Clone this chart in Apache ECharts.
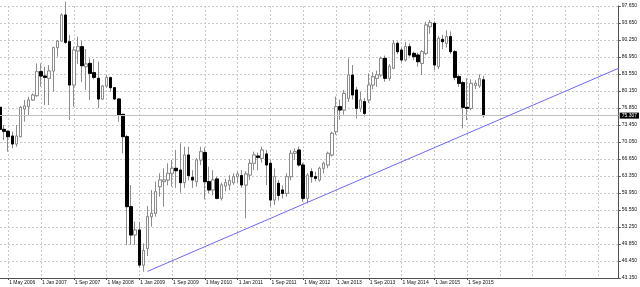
<!DOCTYPE html>
<html><head><meta charset="utf-8">
<script src="https://cdn.jsdelivr.net/npm/echarts@6/dist/echarts.min.js"></script>
<style>html,body{margin:0;padding:0;background:#fff}#c{width:640px;height:287px}</style>
</head><body><div id="c"></div>
<script>
// ---- data ----
const firstMonth = { year: 2006, month: 2 }; // March 2006 (0-based month)
const slotCount = 152;                        // monthly slots on the time axis
const monthNames = ['Jan','Feb','Mar','Apr','May','Jun','Jul','Aug','Sep','Oct','Nov','Dec'];

const opens = [76.95,72.59,72.2,71.27,69.69,71.14,76.62,77.08,78.4,79.26,84.01,83.15,82.69,84.15,88.77,90.08,95.23,89.95,81.37,88.1,
88.96,85.0,85.66,83.81,82.69,78.6,81.17,82.82,80.84,78.6,75.56,71.14,57.28,51.67,52.66,45.7,49.0,55.3,55.96,61.24,
62.23,62.56,63.88,64.87,64.54,62.03,67.51,63.09,62.23,66.52,68.0,62.23,60.58,62.76,58.93,61.37,61.57,62.03,63.22,63.42,
61.57,63.55,65.86,67.31,66.85,67.71,65.86,58.6,61.9,60.58,59.92,63.22,67.84,68.5,65.53,58.93,64.2,63.22,62.56,64.87,
65.53,67.51,72.13,77.08,76.42,78.73,83.35,80.38,76.75,78.07,78.4,81.37,82.7,83.35,86.65,82.69,84.7,89.62,88.3,86.32,
88.96,87.64,87.31,85.66,87.64,92.92,93.58,85.0,90.41,89.62,90.94,87.97,83.02,81.83,76.95,76.75,81.3,81.2,82.4];
const closes = [72.59,72.2,71.14,69.69,71.27,76.95,77.21,78.4,79.39,84.01,83.15,82.89,84.15,88.77,90.08,95.23,89.82,81.37,88.3,88.96,
85.2,85.53,83.68,82.89,78.6,81.17,82.89,80.84,78.6,75.43,71.14,57.28,51.67,52.66,45.7,48.6,55.3,55.96,60.25,62.56,
62.56,63.88,64.87,64.4,62.03,67.51,63.42,62.56,66.52,68.17,62.23,60.58,62.56,58.93,61.57,62.03,62.43,63.22,63.75,61.57,
63.75,65.86,67.51,67.05,68.5,65.53,58.6,63.22,59.5,59.92,63.22,67.84,68.17,65.53,58.93,63.55,63.22,62.89,64.87,65.86,
67.84,71.8,77.08,76.42,79.72,83.35,79.39,76.75,78.4,75.76,81.37,83.0,83.4,86.65,82.7,85.07,89.62,87.97,86.32,88.96,
87.31,86.98,85.99,87.97,93.25,93.72,85.33,90.61,89.95,90.94,87.97,82.89,81.7,76.95,76.75,81.7,81.7,82.6,75.307];
const lows = [72.3,70.48,68.17,68.83,69.16,71.0,74.11,75.43,78.27,79.06,81.04,77.41,77.41,80.0,86.98,89.9,89.5,74.44,77.08,85.5,
82.0,80.4,78.4,82.5,76.75,78.4,80.84,80.0,78.4,74.11,67.84,49.68,49.68,49.68,45.2,44.4,47.5,53.32,55.3,59.26,
57.28,61.5,61.24,61.0,60.05,61.0,62.5,61.0,61.24,65.5,58.73,59.92,59.5,58.73,58.5,60.3,60.5,61.6,62.0,61.0,
54.97,62.56,64.5,64.5,66.0,61.57,57.28,57.61,58.5,58.9,59.26,62.5,66.5,65.2,58.27,57.94,62.0,62.3,62.23,63.9,
64.9,67.2,71.5,74.5,75.5,78.0,78.5,74.77,76.0,75.1,77.8,80.5,81.0,83.0,82.0,82.2,84.5,87.5,85.8,86.0,
87.0,86.3,85.0,83.35,87.3,91.5,84.34,84.5,88.5,88.8,87.5,82.3,81.0,72.79,74.44,76.4,80.6,80.8,74.9];
const highs = [77.41,73.45,72.4,72.13,73.45,77.21,78.4,79.06,79.72,85.66,85.66,85.0,85.33,88.96,90.28,95.57,97.88,91.27,88.96,90.94,
90.1,88.5,86.65,86.5,86.0,81.37,83.35,83.02,81.0,78.8,75.7,71.47,61.57,54.31,54.3,50.0,57.4,60.58,62.23,63.88,
64.87,65.86,66.52,68.5,69.82,69.16,69.16,64.5,66.9,69.16,69.0,65.2,64.5,63.2,62.0,62.8,63.5,63.9,64.2,64.5,
64.3,66.65,68.17,68.0,69.16,68.5,66.5,64.87,62.56,61.5,63.88,68.5,68.8,69.16,66.0,63.9,64.87,64.2,65.2,66.19,
68.17,72.13,79.06,78.5,80.38,86.65,85.33,81.0,80.05,78.8,83.68,83.9,84.2,87.0,87.2,85.5,90.28,90.0,88.8,89.9,
89.62,88.0,87.8,88.3,93.9,94.24,94.0,91.0,91.3,92.2,92.0,88.3,83.5,82.2,82.7,82.5,82.3,83.5,83.2];

const priceTickLabels = ['43.150','46.450','49.850','53.250','56.550','59.950','63.350','66.650','70.050',
  '73.450','76.850','80.150','83.550','86.950','90.250','93.650','97.650'];
const dateTickLabels = ['1 May 2006','1 Jan 2007','1 Sep 2007','1 May 2008','1 Jan 2009','1 Sep 2009','1 May 2010',
  '1 Jan 2011','1 Sep 2011','1 May 2012','1 Jan 2013','1 Sep 2013','1 May 2014','1 Jan 2015','1 Sep 2015'];
const currentPrice = 75.307;
const trendDates = ['1 Mar 2009', '1 Oct 2018'];
const trendValues = [44.46, 84.70];

// ---- build ----
const categories = [];
for (let i = 0; i < slotCount; i++) {
  const m = firstMonth.month + i;
  categories.push('1 ' + monthNames[m % 12] + ' ' + (firstMonth.year + Math.floor(m / 12)));
}
const firstTickIdx = categories.indexOf(dateTickLabels[0]);
const gridStep = 8;
const labelSet = new Set(dateTickLabels);
const candleData = opens.map((o, i) => [o, closes[i], lows[i], highs[i]]);
const bodyData = opens.map((o, i) => [o, closes[i], Math.min(o, closes[i]), Math.max(o, closes[i])]);

const yMin = parseFloat(priceTickLabels[0]);
const yStep = (parseFloat(priceTickLabels[15]) - yMin) / 15;
const yMax = yMin + yStep * 16;

const FONT = 'Liberation Sans';
const axisCol = '#505050';
const gridLine = { show: true, lineStyle: { color: '#c8c8c8', type: [2, 2], width: 1 } };

const chart = echarts.init(document.getElementById('c'), null, { renderer: 'canvas' });
chart.setOption({
  animation: false,
  backgroundColor: '#fff',
  grid: { left: 0, right: 19, top: 6, bottom: 9, containLabel: false },
  xAxis: {
    type: 'category', data: categories, boundaryGap: false,
    axisLine: { show: true, lineStyle: { color: axisCol, width: 1 } },
    axisTick: { show: true, length: 2, interval: (i, v) => labelSet.has(v), lineStyle: { color: axisCol } },
    axisLabel: { show: true, interval: (i, v) => labelSet.has(v), fontSize: 5, fontFamily: FONT, color: '#111',
      align: 'left', margin: 2, padding: [0, 0, 0, 1], hideOverlap: false },
    splitLine: Object.assign({ interval: (i) => i >= firstTickIdx && (i - firstTickIdx) % gridStep === 0 }, gridLine)
  },
  yAxis: [
    { type: 'value', position: 'right', min: yMin, max: yMax, scale: true,
      axisLine: { show: false }, axisTick: { show: false }, axisLabel: { show: false }, splitLine: { show: false } },
    { type: 'value', position: 'right', min: 0, max: 16, interval: 1,
      axisLine: { show: true, lineStyle: { color: axisCol, width: 1 } },
      axisTick: { show: true, length: 2, lineStyle: { color: axisCol } },
      axisLabel: { show: true, fontSize: 5, fontFamily: FONT, color: '#111', margin: 3,
        formatter: (v) => priceTickLabels[Math.round(v)] || '' },
      splitLine: gridLine }
  ],
  series: [
    { type: 'candlestick', yAxisIndex: 0, data: candleData, barWidth: 3, clip: false,
      itemStyle: { color: '#fff', color0: '#000', borderColor: '#8c8c8c', borderColor0: '#8c8c8c', borderWidth: 1 } },
    { type: 'candlestick', yAxisIndex: 0, data: bodyData, barWidth: 3, clip: false,
      itemStyle: { color: '#fff', color0: '#000', borderColor: '#8c8c8c', borderColor0: '#000', borderWidth: 1 },
      markLine: { silent: true, symbol: 'none', animation: false,
        data: [{ yAxis: currentPrice }],
        lineStyle: { color: '#c0c0c0', type: 'solid', width: 1 },
        label: { show: true, position: 'end', distance: 1, formatter: currentPrice.toFixed(3), fontSize: 5, fontFamily: FONT,
          color: '#fff', backgroundColor: '#000', padding: [1, 2, 0, 2] } } },
    { type: 'line', yAxisIndex: 0, data: [[trendDates[0], trendValues[0]], [trendDates[1], trendValues[1]]],
      symbol: 'none', clip: false, lineStyle: { color: '#6b6bf0', width: 1 }, z: 5 }
  ]
});
</script></body></html>
